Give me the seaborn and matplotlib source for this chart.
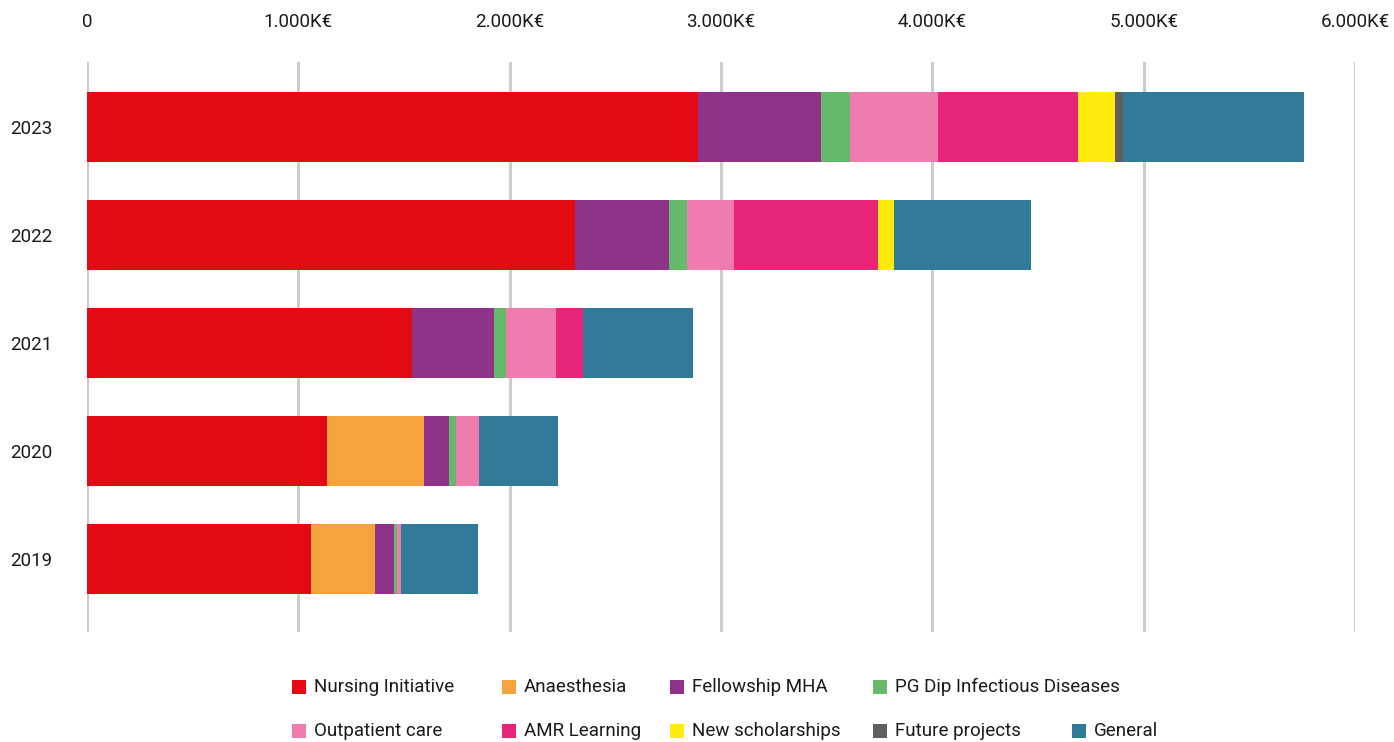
import matplotlib
matplotlib.use("Agg")
import matplotlib.pyplot as plt
import seaborn as sns
import numpy as np
import pandas as pd
from matplotlib.patches import Rectangle

years = ["2023", "2022", "2021", "2020", "2019"]
series = ["Nursing Initiative", "Anaesthesia", "Fellowship MHA", "PG Dip Infectious Diseases",
          "Outpatient care", "AMR Learning", "New scholarships", "Future projects", "General"]
nursing = [2890, 2307, 1540, 1138, 1058]
anaesthesia = [0, 0, 0, 455, 307]
fellowship = [581, 445, 384, 118, 86]
pgdip = [140, 85, 61, 33, 17]
outpatient = [418, 223, 232, 113, 20]
amr = [659, 681, 128, 0, 0]
scholarships = [176, 76, 0, 0, 0]
future = [38, 0, 0, 0, 0]
general = [855, 648, 521, 374, 360]
xticks = [0, 1000, 2000, 3000, 4000, 5000, 6000]
xticklabels = ["0", "1.000K€", "2.000K€", "3.000K€", "4.000K€", "5.000K€", "6.000K€"]

colors = ["#E30A13", "#F5A33D", "#8E3388", "#66B86A", "#EE7CAE", "#E7267A", "#FFEB10", "#5F5F5F", "#317B99"]
values = [nursing, anaesthesia, fellowship, pgdip, outpatient, amr, scholarships, future, general]

sns.set_theme(style="white")
plt.rcParams['font.family'] = ['Roboto', 'DejaVu Sans']

fig = plt.figure(figsize=(13.94, 7.42), dpi=100)
ax = fig.add_axes([87/1394, 1-632/742, (1355-87)/1394, (632-62)/742])

cum = np.cumsum(np.array(values), axis=0)
for i in range(len(series) - 1, -1, -1):
    df = pd.DataFrame({"year": years, "value": cum[i]})
    sns.barplot(data=df, x="value", y="year", orient="h", color=colors[i],
                width=0.648, saturation=1, ax=ax, zorder=3, linewidth=0, order=years)

ax.set_xlim(0, 6000)
ax.set_ylim(4.68, -0.6)
ax.set_xticks(xticks)
ax.set_xticklabels(xticklabels)
ax.xaxis.tick_top()
ax.grid(axis="x", color="#cccccc", linewidth=2.2, zorder=0)
ax.grid(axis="y", visible=False)
ax.set_axisbelow(True)
for s in ax.spines.values():
    s.set_visible(False)
ax.tick_params(axis="x", length=0, pad=22, labelsize=13.5, colors="#1a1a1a")
ax.tick_params(axis="y", length=0, pad=25, labelsize=13.5, labelcolor="#1a1a1a")
ax.set_xlabel("")
ax.set_ylabel("")

# legend (manual layout)
legend_pos = [(292, 687), (502, 687), (670, 687), (873, 687),
              (292, 731), (502, 731), (670, 731), (873, 731), (1072, 731)]
W, H = 1394, 742
for (px, py), name, col in zip(legend_pos, series, colors):
    fig.add_artist(Rectangle((px / W, 1 - (py + 7) / H), 14 / W, 14 / H,
                             transform=fig.transFigure, facecolor=col, edgecolor="none"))
    fig.text((px + 22) / W, 1 - py / H, name, fontsize=13.5, va="center", ha="left", color="#1a1a1a")

fig.savefig("out.png", dpi=100)
